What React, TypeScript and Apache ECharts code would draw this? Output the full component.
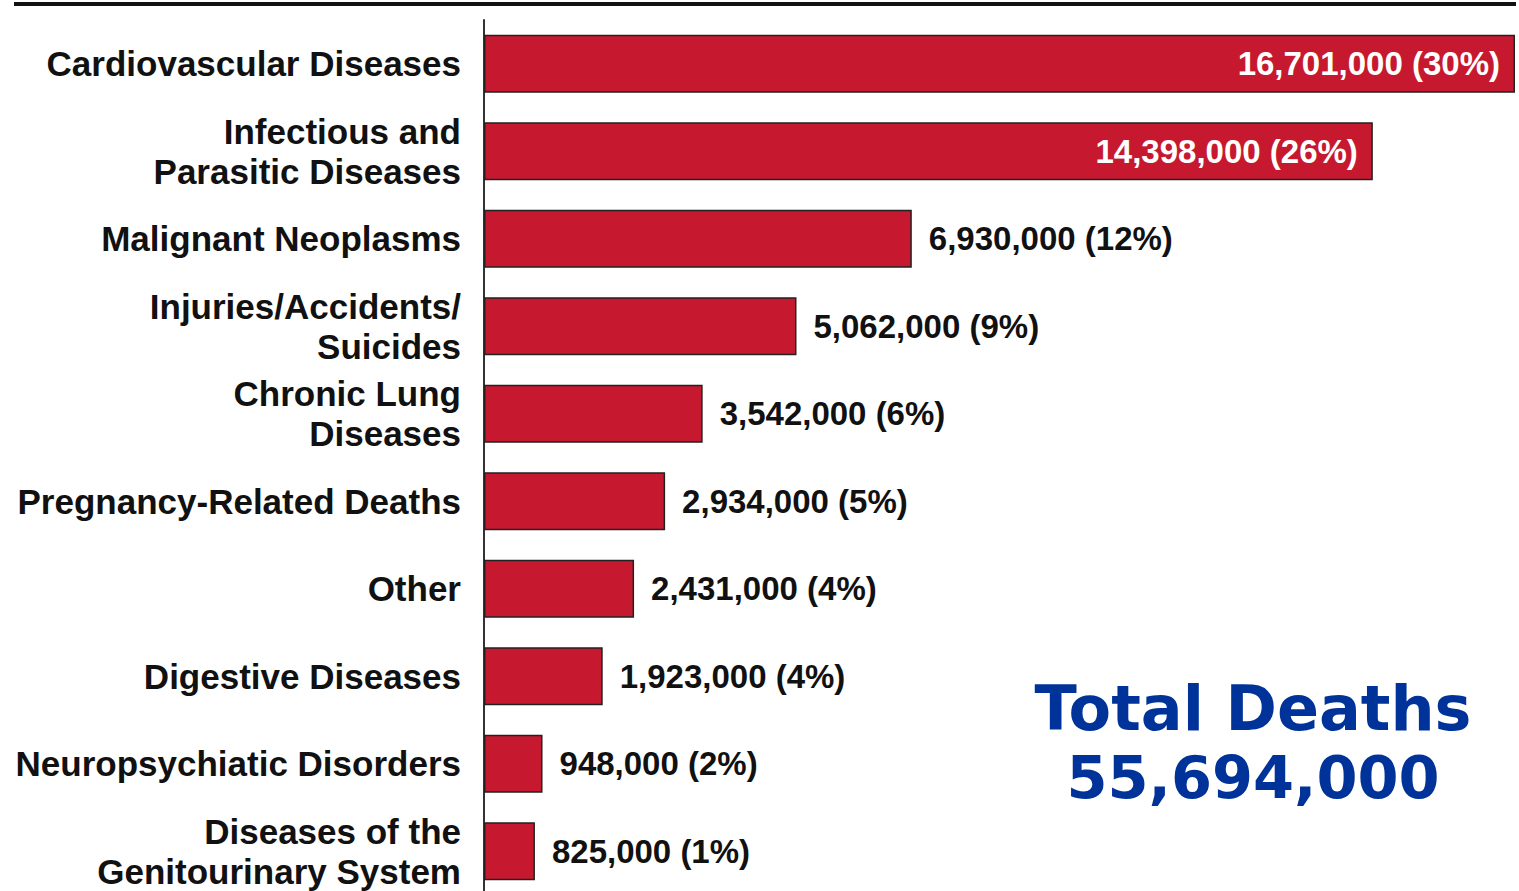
import React, { useEffect, useRef } from "react";
import * as echarts from "echarts";

const categories = [
  "Cardiovascular Diseases",
  "Infectious and\nParasitic Diseases",
  "Malignant Neoplasms",
  "Injuries/Accidents/\nSuicides",
  "Chronic Lung\nDiseases",
  "Pregnancy-Related Deaths",
  "Other",
  "Digestive Diseases",
  "Neuropsychiatic Disorders",
  "Diseases of the\nGenitourinary System",
];
const deaths = [16701000, 14398000, 6930000, 5062000, 3542000, 2934000, 2431000, 1923000, 948000, 825000];
const percents = [30, 26, 12, 9, 6, 5, 4, 4, 2, 1];
const insideLabelCount = 2;
const totalTitle = "Total Deaths";
const totalValue = "55,694,000";

const fmt = (n: number) => n.toString().replace(/\B(?=(\d{3})+(?!\d))/g, ",");

export default function App() {
  const ref = useRef<HTMLDivElement>(null);
  useEffect(() => {
    if (!ref.current) return;
    const chart = echarts.init(ref.current, undefined, { renderer: "svg" });
    const data = deaths.map((v, i) => ({
      value: v,
      label:
        i < insideLabelCount
          ? { position: "insideRight", color: "#ffffff", distance: 15 }
          : { position: "right", color: "#111111", distance: 17 },
    }));
    chart.setOption({
      animation: false,
      backgroundColor: "#ffffff",
      grid: { left: 484, right: 4, top: 20, bottom: 0, containLabel: false },
      xAxis: {
        type: "value",
        min: 0,
        max: deaths[0],
        show: false,
      },
      yAxis: {
        type: "category",
        data: categories,
        inverse: true,
        axisLine: { show: true, lineStyle: { color: "#333333", width: 2 } },
        axisTick: { show: false },
        splitLine: { show: false },
        axisLabel: {
          margin: 23,
          fontFamily: "Liberation Sans",
          fontWeight: "bold",
          fontSize: 35,
          lineHeight: 40,
          color: "#111111",
          align: "right",
        },
      },
      series: [
        {
          type: "bar",
          data,
          barWidth: 58,
          itemStyle: { color: "#C6192F", borderColor: "#222222", borderWidth: 1.5 },
          label: {
            show: true,
            fontFamily: "Liberation Sans",
            fontWeight: "bold",
            fontSize: 33,
            formatter: (p: any) => `${fmt(deaths[p.dataIndex])} (${percents[p.dataIndex]}%)`,
          },
        },
      ],
      graphic: [
        {
          type: "line",
          shape: { x1: 14, y1: 4, x2: 1516, y2: 4 },
          style: { stroke: "#111111", lineWidth: 4 },
        },
        {
          type: "text",
          x: 1253,
          y: 708,
          style: {
            text: totalTitle,
            fontFamily: "DejaVu Sans",
            fontWeight: "bold",
            fontSize: 62,
            fill: "#003399",
            align: "center",
            verticalAlign: "middle",
          },
        },
        {
          type: "text",
          x: 1253,
          y: 777,
          style: {
            text: totalValue,
            fontFamily: "DejaVu Sans",
            fontWeight: "bold",
            fontSize: 59,
            fill: "#003399",
            align: "center",
            verticalAlign: "middle",
          },
        },
      ],
    });
    return () => chart.dispose();
  }, []);
  return (
    <div style={{ position: "fixed", left: 0, top: 0, width: 1519, height: 891, overflow: "hidden" }}>
      <div ref={ref} style={{ width: 1519, height: 895 }} />
    </div>
  );
}
